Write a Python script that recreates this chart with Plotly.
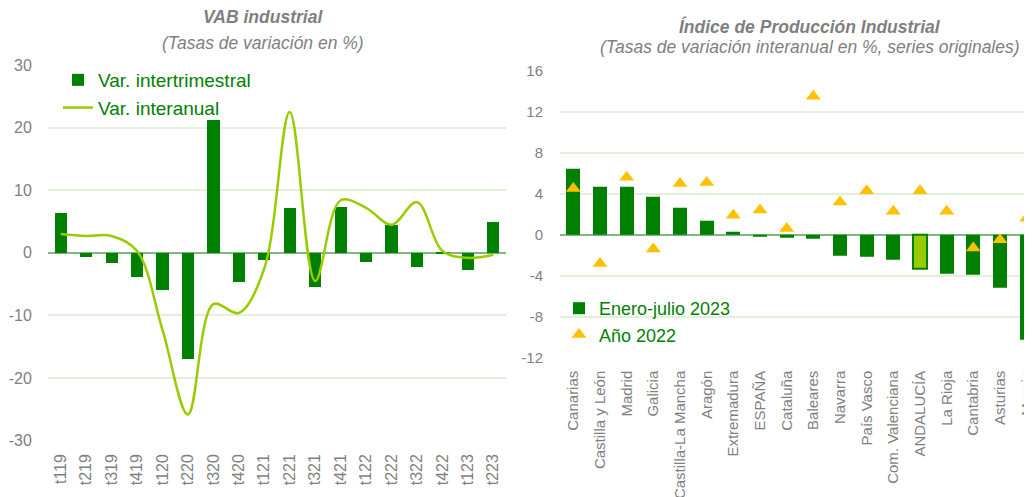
import plotly.graph_objects as go

# ---------------- Data ----------------
quarters = ["t119", "t219", "t319", "t419", "t120", "t220", "t320", "t420", "t121",
            "t221", "t321", "t421", "t122", "t222", "t322", "t422", "t123", "t223"]
var_intertrimestral = [6.4, -0.7, -1.7, -3.9, -6.0, -16.9, 21.2, -4.7, -1.1,
                       7.2, -5.4, 7.4, -1.5, 4.5, -2.3, -0.2, -2.8, 4.9]
var_interanual = [3.0, 2.7, 2.7, 0.3, -12.3, -25.8, -8.2, -9.6, -2.5,
                  22.5, -4.5, 8.4, 7.2, 4.5, 8.1, 0.3, -0.8, -0.3]

regiones = ["Canarias", "Castilla y León", "Madrid", "Galicia", "Castilla-La Mancha",
            "Aragón", "Extremadura", "ESPAÑA", "Cataluña", "Baleares", "Navarra",
            "País Vasco", "Com. Valenciana", "ANDALUCÍA", "La Rioja", "Cantabria",
            "Asturias", "Murcia"]
enero_julio_2023 = [6.4, 4.7, 4.7, 3.7, 2.6, 1.4, 0.3, -0.2, -0.3, -0.4, -2.0,
                    -2.1, -2.4, -3.3, -3.8, -3.9, -5.2, -10.2]
anio_2022 = [4.5, -2.8, 5.6, -1.4, 5.0, 5.1, 1.9, 2.4, 0.6, 13.5, 3.2,
             4.3, 2.3, 4.3, 2.3, -1.3, -0.5, 1.6]

left_yticks = [-30, -20, -10, 0, 10, 20, 30]
left_yticklabels = ["-30", "-20", "-10", "0", "10", "20", "30"]
right_yticks = [-12, -8, -4, 0, 4, 8, 12, 16]
right_yticklabels = ["-12", "-8", "-4", "0", "4", "8", "12", "16"]

# ---------------- Styles ----------------
DARK_GREEN = "#008000"
LIGHT_GREEN = "#99CC00"
GOLD = "#FFC000"
GREY = "#7F7F7F"
GRID = "#E2EFDA"
ZERO = "#7DB87D"
FONT = "Liberation Sans, Arial, sans-serif"
OFF = 8               # page body margin in the browser
W, H = 1032 - OFF, 497 - OFF

bar_colors = [LIGHT_GREEN if r == "ANDALUCÍA" else DARK_GREEN for r in regiones]
bar_line_w = [2 if r == "ANDALUCÍA" else 0 for r in regiones]

fig = go.Figure()

fig.add_trace(go.Bar(
    x=quarters, y=var_intertrimestral, name="Var. intertrimestral",
    marker=dict(color=DARK_GREEN, line=dict(width=0)),
    width=0.48, xaxis="x", yaxis="y", legend="legend"))
fig.add_trace(go.Scatter(
    x=quarters, y=var_interanual, name="Var. interanual", mode="lines",
    line=dict(color=LIGHT_GREEN, width=2.5, shape="spline", smoothing=1.0),
    xaxis="x", yaxis="y", legend="legend"))

fig.add_trace(go.Bar(
    x=regiones, y=enero_julio_2023, name="Enero-julio 2023",
    marker=dict(color=bar_colors, line=dict(color=DARK_GREEN, width=bar_line_w)),
    width=0.53, xaxis="x2", yaxis="y2", legend="legend2"))
fig.add_trace(go.Scatter(
    x=regiones, y=anio_2022, name="Año 2022", mode="markers",
    marker=dict(symbol="triangle-up", size=13, color=GOLD),
    xaxis="x2", yaxis="y2", legend="legend2"))

def sy(px):   # screen pixel y -> paper fraction
    return 1 - (px - OFF) / H

def sx(px):   # screen pixel x -> paper fraction
    return (px - OFF) / W

fig.update_layout(
    template="none",
    width=W, height=H,
    margin=dict(l=0, r=0, t=0, b=0, autoexpand=False),
    paper_bgcolor="white", plot_bgcolor="white",
    font=dict(family=FONT, color=GREY),
    showlegend=True,
    xaxis=dict(domain=[sx(48), sx(506)], anchor="y", type="category", automargin=False,
               tickangle=-90, tickfont=dict(family=FONT, size=16, color=GREY),
               showgrid=False, showline=False, ticks="outside", ticklen=6,
               tickcolor="rgba(0,0,0,0)", range=[-0.5, 17.5]),
    yaxis=dict(domain=[sy(440.7), sy(65)], anchor="x", range=[-30, 30], automargin=False,
               tickvals=left_yticks, ticktext=left_yticklabels,
               tickfont=dict(family=FONT, size=16, color=GREY), showgrid=True,
               gridcolor=GRID, gridwidth=1.5, zeroline=True, zerolinecolor=ZERO,
               zerolinewidth=2, showline=False, ticks="outside",
               tickcolor="rgba(0,0,0,0)", ticklen=12),
    xaxis2=dict(domain=[sx(560), 1.0], anchor="y2", type="category", automargin=False,
                tickangle=-90, tickfont=dict(family=FONT, size=15, color=GREY),
                showgrid=False, showline=False, ticks="outside", ticklen=6,
                tickcolor="rgba(0,0,0,0)", range=[-0.5, 17.2]),
    yaxis2=dict(domain=[sy(357.7), sy(70.7)], anchor="x2", range=[-12, 16], automargin=False,
                tickvals=right_yticks, ticktext=right_yticklabels,
                tickfont=dict(family=FONT, size=15, color=GREY),
                showgrid=True, gridcolor=GRID, gridwidth=1.5, zeroline=True,
                zerolinecolor=ZERO, zerolinewidth=2, showline=False,
                ticks="outside", tickcolor="rgba(0,0,0,0)", ticklen=13),
    legend=dict(x=sx(58), y=sy(61), xanchor="left", yanchor="top",
                bgcolor="rgba(0,0,0,0)", font=dict(family=FONT, size=19, color=DARK_GREEN),
                itemwidth=30, tracegroupgap=0),
    legend2=dict(x=sx(559), y=sy(290), xanchor="left", yanchor="top",
                 bgcolor="rgba(0,0,0,0)", font=dict(family=FONT, size=18, color=DARK_GREEN),
                 itemwidth=30, tracegroupgap=0),
    bargap=0,
    annotations=[
        dict(text="<b><i>VAB industrial</i></b>", x=sx(263), y=sy(17), xref="paper",
             yref="paper", xanchor="center", yanchor="middle", showarrow=False,
             font=dict(family=FONT, size=17.5, color=GREY)),
        dict(text="<i>(Tasas de variación en %)</i>", x=sx(263), y=sy(43), xref="paper",
             yref="paper", xanchor="center", yanchor="middle", showarrow=False,
             font=dict(family=FONT, size=17.5, color=GREY)),
        dict(text="<b><i>Índice de Producción Industrial</i></b>", x=sx(810), y=sy(27),
             xref="paper", yref="paper", xanchor="center", yanchor="middle", showarrow=False,
             font=dict(family=FONT, size=17.5, color=GREY)),
        dict(text="<i>(Tasas de variación interanual en %, series originales)</i>",
             x=sx(810), y=sy(47), xref="paper", yref="paper", xanchor="center",
             yanchor="middle", showarrow=False,
             font=dict(family=FONT, size=17.5, color=GREY)),
    ],
)

fig.write_html("out.html")
